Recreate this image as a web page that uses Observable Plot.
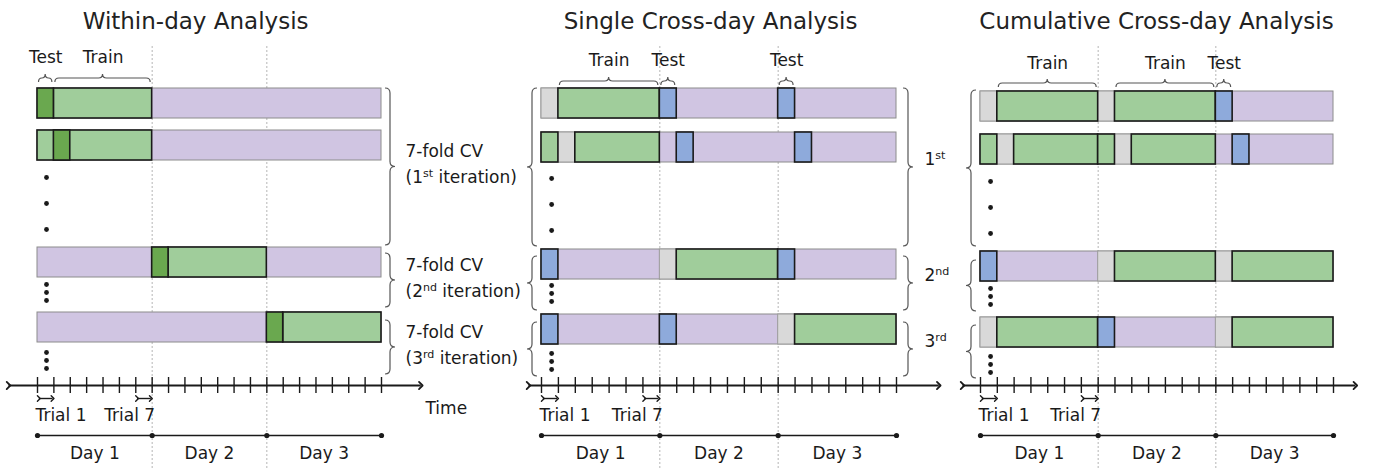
<!DOCTYPE html>
<html><head><meta charset="utf-8">
<script src="https://cdn.jsdelivr.net/npm/d3@7"></script>
<script src="https://cdn.jsdelivr.net/npm/@observablehq/plot@0.6"></script>
<style>
body{margin:0;background:#fff;}
#wrap{position:relative;width:1374px;height:468px;overflow:hidden;font-family:"DejaVu Sans";}
#wrap svg{position:absolute;top:0;overflow:visible;background:transparent;}
</style></head><body><div id="wrap"></div>
<script>
// ---------- data ----------
const titles = ["Within-day Analysis", "Single Cross-day Analysis", "Cumulative Cross-day Analysis"];
const dayLabels = ["Day 1", "Day 2", "Day 3"];
const dayStarts = [0, 7, 14, 21];            // trial index at day boundaries
const trialTicks = d3.range(0, 22);          // 21 trials over 3 days
const trialLabels = ["Trial 1", "Trial 7"];
const trialSpans = [[0, 1], [6, 7]];
const timeLabel = "Time";

// each row: [startTrial, endTrial, kind]
const withinRows = [
  [[1, 7, "train"], [0, 1, "test"]],
  [[0, 7, "train"], [1, 2, "test"]],
  [[8, 14, "train"], [7, 8, "test"]],
  [[15, 21, "train"], [14, 15, "test"]]
];
const singleRows = [
  [[0, 1, "skip"], [1, 7, "train"], [7, 8, "cross"], [14, 15, "cross"]],
  [[0, 1, "train"], [1, 2, "skip"], [2, 7, "train"], [8, 9, "cross"], [15, 16, "cross"]],
  [[0, 1, "cross"], [7, 8, "skip"], [8, 14, "train"], [14, 15, "cross"]],
  [[0, 1, "cross"], [7, 8, "cross"], [14, 15, "skip"], [15, 21, "train"]]
];
const cumulativeRows = [
  [[0, 1, "skip"], [1, 7, "train"], [7, 8, "skip"], [8, 14, "train"], [14, 15, "cross"]],
  [[0, 1, "train"], [1, 2, "skip"], [2, 7, "train"], [7, 8, "train"], [8, 9, "skip"], [9, 14, "train"], [15, 16, "cross"]],
  [[0, 1, "cross"], [7, 8, "skip"], [8, 14, "train"], [14, 15, "skip"], [15, 21, "train"]],
  [[0, 1, "skip"], [1, 7, "train"], [7, 8, "cross"], [14, 15, "skip"], [15, 21, "train"]]
];
// top braces: [fromTrial, toTrial, label]
const withinTop = [[0, 1, "Test"], [1, 7, "Train"]];
const singleTop = [[1, 7, "Train"], [7, 8, "Test"], [14, 15, "Test"]];
const cumulativeTop = [[1, 7, "Train"], [8, 14, "Train"], [14, 15, "Test"]];
// side labels
const withinSide = [["7-fold CV", "(1{st} iteration)"], ["7-fold CV", "(2{nd} iteration)"], ["7-fold CV", "(3{rd} iteration)"]];
const singleSide = ["1{st}", "2{nd}", "3{rd}"];

// ---------- styles / layout ----------
const fills = {train: "#a0cd9b", test: "#6aa84f", cross: "#8eaadb", skip: "#d9d9d9"};
const purple = "#d0c5e2";
const ink = "#1a1a1a";
const font = "DejaVu Sans";
const fs = 17;

const panels = [
  {rows: withinRows, top: withinTop, left: 0, width: 530, mL: 37, mR: 149,
   rowTop: [88, 130, 247, 312], dotDy: 0, axis: [-1.77, 23.4], titleX: 9.65, topY: [82, 57],
   sideGroups: [[88, 245], [253, 307], [320, 374]], dotX: 0.55},
  {rows: singleRows, top: singleTop, left: 500, width: 440, mL: 41, mR: 44,
   rowTop: [88, 132, 249, 314], dotDy: 1, axis: [-0.77, 23.5], titleX: 10.0, topY: [85, 60],
   sideGroups: [[88, 246], [256, 310], [322, 376]], dotX: 0.6},
  {rows: cumulativeRows, top: cumulativeTop, left: 940, width: 434, mL: 40, mR: 41,
   rowTop: [91, 134, 251, 317], dotDy: 4, axis: [-1.07, 22.3], titleX: 10.47, topY: [87, 63],
   sideGroups: [[90, 246], [260, 311], [325, 378]], dotX: 0.6}
];
const dotYs = [177, 203, 229, 284, 292, 300, 352, 360, 368];
const barH = 30;

function bracePath(u1, u2, v, d, h) {
  const um = (u1 + u2) / 2, r = Math.min(h / 2, (u2 - u1) / 4), m = v + d * h / 2, t = v + d * h;
  return [[u1, v, "M"], [u1, m, "Q"], [u1 + r, m, ""], [um - r, m, "L"], [um, m, "Q"], [um, t, ""],
          [um, m, "Q"], [um + r, m, ""], [u2 - r, m, "L"], [u2, m, "Q"], [u2, v, ""]];
}
function toD(pts, vertical) {
  return pts.map(([u, v, c]) => (c ? c : " ") + (vertical ? `${v},${u}` : `${u},${v}`)).join("");
}
function braceMark(specs) {
  return (index, {x, y}) => {
    const g = d3.create("svg:g").attr("fill", "none").attr("stroke", "#555").attr("stroke-width", 1.2);
    for (const s of specs) {
      if (s.type === "h") {
        g.append("path").attr("d", toD(bracePath(x(s.a) + 1.5, x(s.b) - 1.5, y(s.v), -1, s.h), false));
      } else {
        g.append("path").attr("d", toD(bracePath(y(s.a), y(s.b), x(s.ref) + s.off, s.d, s.h), true));
      }
    }
    return g.node();
  };
}

function supify(svg) {
  d3.select(svg).selectAll("text").each(function () {
    const s = this.textContent;
    if (!s.includes("{")) return;
    const parts = s.split(/(\{[^}]*\})/).filter(p => p);
    const sel = d3.select(this);
    sel.text(null);
    let up = false;
    parts.forEach(p => {
      if (p.startsWith("{")) {
        sel.append("tspan").attr("dy", -6).attr("font-size", "0.65em").text(p.slice(1, -1));
        up = true;
      } else {
        const t = sel.append("tspan").text(p);
        if (up) { t.attr("dy", 6); up = false; }
      }
    });
  });
}

panels.forEach((p, pi) => {
  const segs = p.rows.flatMap((r, i) => r.map(([a, b, k]) => ({a, b, k, row: i})));
  const order = {skip: 0, train: 1, test: 2, cross: 2};
  segs.sort((u, v) => order[u.k] - order[v.k]);
  const rowIdx = p.rows.map((r, i) => i);
  const top = p.rowTop;
  const braceSpecs = p.top.map(([a, b]) => ({type: "h", a, b, v: p.topY[0], h: 8}));
  if (pi === 0) p.sideGroups.forEach(([a, b]) => braceSpecs.push({type: "v", a, b, ref: 21, off: 4, d: 1, h: 10}));
  if (pi >= 1) p.sideGroups.forEach(([a, b]) => braceSpecs.push({type: "v", a, b, ref: 0, off: -4, d: -1, h: 10}));
  if (pi === 1) p.sideGroups.forEach(([a, b]) => braceSpecs.push({type: "v", a, b, ref: 21, off: 7, d: 1, h: 10}));

  const marks = [
    Plot.ruleX([7, 14], {y1: 46, y2: 468, stroke: "#b5b5b5", strokeDasharray: "2,2", strokeWidth: 1}),
    Plot.text([titles[pi]], {x: p.titleX, y: 21, text: d => d, fontSize: 23, fill: "#222", fontFamily: font}),
    // background bars
    Plot.rect(rowIdx, {x1: 0, x2: 21, y1: i => top[i], y2: i => top[i] + barH, fill: purple, stroke: "#8c8c8c", strokeWidth: 1}),
    Plot.rect(segs.filter(s => s.k === "skip"), {x1: "a", x2: "b", y1: d => top[d.row], y2: d => top[d.row] + barH, fill: fills.skip, stroke: "#9a9a9a", strokeWidth: 1}),
    Plot.rect(segs.filter(s => s.k !== "skip"), {x1: "a", x2: "b", y1: d => top[d.row], y2: d => top[d.row] + barH, fill: d => fills[d.k], stroke: ink, strokeWidth: 1.6}),
    // top labels
    Plot.text(p.top, {x: d => (d[0] + d[1]) / 2, y: p.topY[1], text: d => d[2], fontSize: fs, fill: ink, fontFamily: font}),
    braceMark(braceSpecs),
    // ellipsis dots
    Plot.dot(dotYs, {x: p.dotX, y: d => d + p.dotDy, r: 2.4, fill: ink, stroke: null}),
    // time axis
    Plot.link([p.axis], {x1: d => d[0], x2: d => d[1], y1: 385, y2: 385, stroke: ink, strokeWidth: 1.8, markerStart: "arrow", markerEnd: "arrow"}),
    Plot.ruleX(trialTicks, {x: d => d, y1: 377, y2: 393, stroke: ink, strokeWidth: 1.4}),
    Plot.link(trialSpans, {x1: d => d[0] + 0.08, x2: d => d[1] - 0.08, y1: 398, y2: 398, stroke: ink, strokeWidth: 1.4, markerStart: "arrow", markerEnd: "arrow"}),
    Plot.text([trialLabels[0]], {x: 0, dx: -2, y: 415, text: d => d, textAnchor: "start", fontSize: fs, fill: ink, fontFamily: font}),
    Plot.text([trialLabels[1]], {x: 7, dx: 3, y: 415, text: d => d, textAnchor: "end", fontSize: fs, fill: ink, fontFamily: font}),
    // day line
    Plot.ruleY([435], {x1: 0, x2: 21, stroke: ink, strokeWidth: 1.4}),
    Plot.dot(dayStarts, {x: d => d, y: 435, r: 2.6, fill: ink, stroke: null}),
    Plot.text(dayLabels, {x: (d, i) => dayStarts[i] + 3.5, y: 453, text: d => d, fontSize: fs, fill: ink, fontFamily: font})
  ];
  if (pi === 0) {
    marks.push(Plot.text([timeLabel], {x: 21, dx: 44, y: 408, text: d => d, textAnchor: "start", fontSize: fs, fill: ink, fontFamily: font}));
    const lines = withinSide.flatMap(([l1, l2], i) => {
      const [a, b] = p.sideGroups[i]; const c = (a + b) / 2 - 2;
      return [{t: l1, y: c - 13}, {t: l2, y: c + 13}];
    });
    marks.push(Plot.text(lines, {x: 21, dx: 24, y: "y", text: "t", textAnchor: "start", fontSize: fs, fill: ink, fontFamily: font}));
  }
  if (pi === 1) {
    marks.push(Plot.text(singleSide, {x: 21, dx: 28, y: (d, i) => (p.sideGroups[i][0] + p.sideGroups[i][1]) / 2 - 8, text: d => d, textAnchor: "start", fontSize: fs, fill: ink, fontFamily: font}));
  }

  const svg = Plot.plot({
    width: p.width, height: 468,
    marginLeft: p.mL, marginRight: p.mR, marginTop: 0, marginBottom: 0,
    x: {domain: [0, 21], axis: null},
    y: {domain: [0, 468], range: [0, 468], axis: null},
    color: {type: "identity"},
    style: {background: "transparent", overflow: "visible", fontFamily: font},
    marks
  });
  supify(svg);
  svg.style.left = p.left + "px";
  svg.style.position = "absolute";
  svg.style.top = "0px";
  svg.style.maxWidth = "none";
  document.getElementById("wrap").appendChild(svg);
});
</script></body></html>
